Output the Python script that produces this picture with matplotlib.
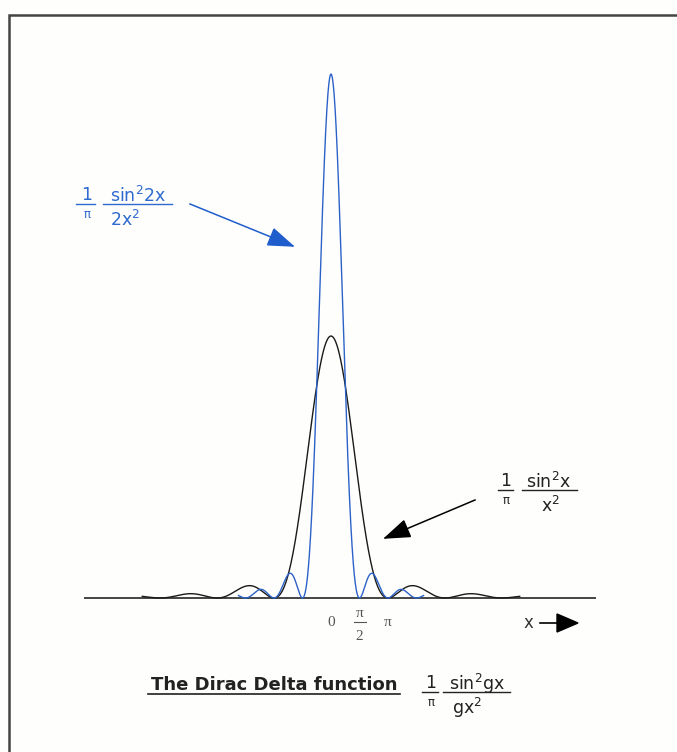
import matplotlib
matplotlib.use("Agg")
import matplotlib.pyplot as plt
import numpy as np
from matplotlib.patches import Rectangle, Polygon

# curve parameters: g in (1/pi) sin^2(gx) / (g x^2), and how far each is drawn
g_values = [1, 2]
x_extent = [10.4, 5.1]
curve_colors = ["#1a1a1a", "#2c62c8"]
tick_pos = [0, np.pi / 2, np.pi]
tick_text = ["0", "\u03c0", "\u03c0"]

W, H = 677, 752
fig = plt.figure(figsize=(W / 100, H / 100), dpi=100)
fig.patch.set_facecolor("#fefefc")
sans = "DejaVu Sans"


# pixel -> figure fraction
def px(x, y):
    return x / W, 1 - y / H


def hline(x0, x1, y, color, lw=1.0):
    fig.add_artist(plt.Line2D([px(x0, 0)[0], px(x1, 0)[0]], [px(0, y)[1]] * 2,
                              color=color, lw=lw))


# axes mapped so that x=0 sits at pixel 331, pi = 57 px, y=0 at pixel 598, 1 unit = 823 px
ax = fig.add_axes([0, 0, 1, 1])
xs = 57 / np.pi
ys = 823
ax.set_xlim(-331 / xs, (W - 331) / xs)
ax.set_ylim(-(H - 598) / ys, 598 / ys)
ax.axis("off")

for g, ext, c in zip(g_values, x_extent, curve_colors):
    x = np.linspace(-ext, ext, 2001)
    x[x == 0] = 1e-9
    y = np.sin(g * x) ** 2 / (g * x ** 2) / np.pi
    ax.plot(x, y, color=c, lw=1.0, zorder=3 if g == 2 else 2)

# horizontal axis
ax.hlines(0, (84 - 331) / xs, (596 - 331) / xs, color="#444444", lw=1.4, zorder=1)

# tick labels under the axis
serif = "Liberation Serif"
tcol = "#555555"
offs = [-17.5, -11.5, -17.5]
for p, t, o in zip(tick_pos, tick_text, offs):
    ax.annotate(t, (p, 0), xytext=(0, o), textcoords="offset points",
                ha="center", va="center", fontsize=11, family=serif, color=tcol)
ax.annotate("2", (tick_pos[1], 0), xytext=(0, -28), textcoords="offset points",
            ha="center", va="center", fontsize=11, family=serif, color=tcol)
hline(354, 366, 622, tcol, 0.8)


def frac_label(x1, xnum, xden, ybar, num, den, color, bar1, bar2, fs=12.5):
    # small 1/pi followed by the main fraction
    fig.text(*px(x1, ybar - 9), "1", ha="center", va="center", fontsize=fs,
             color=color, family=sans)
    fig.text(*px(x1, ybar + 11), "\u03c0", ha="center", va="center", fontsize=fs - 4,
             color=color, family=sans)
    hline(*bar1, ybar, color)
    fig.text(*px(xnum, ybar - 8), num, ha="center", va="center", fontsize=fs,
             color=color, family=sans)
    fig.text(*px(xden, ybar + 16), den, ha="center", va="center", fontsize=fs,
             color=color, family=sans)
    hline(*bar2, ybar, color)


def arrow(x0, y0, x1, y1, color, head=24, width=17):
    fig.add_artist(plt.Line2D([px(x0, 0)[0], px(x1, 0)[0]], [px(0, y0)[1], px(0, y1)[1]],
                              color=color, lw=1.1))
    d = np.array([x1 - x0, y1 - y0], float)
    d /= np.hypot(*d)
    n = np.array([-d[1], d[0]])
    tip = np.array([x1, y1])
    base = tip - d * head
    pts = [tip, base + n * width / 2, base - n * width / 2]
    fig.add_artist(Polygon([px(*p) for p in pts], closed=True, color=color,
                           transform=fig.transFigure))


blue = "#2d6ad0"
frac_label(87, 138, 125, 204, "sin$^2$2x", "2x$^2$", blue, (76, 95), (103, 172))
arrow(190, 204, 293, 246, "#1f5ccc")

frac_label(506, 549, 550, 490, "sin$^2$x", "x$^2$", "#222222", (498, 513), (522, 577))
arrow(475, 500, 385, 538, "black")

# x arrow
fig.text(*px(528, 623), "x", ha="center", va="center", fontsize=12,
         color="#333333", family=sans)
hline(540, 560, 623, "black", 1.2)
fig.add_artist(Polygon([px(578, 623), px(557, 614), px(557, 632)], closed=True,
                       color="black", transform=fig.transFigure))

# caption
fig.text(*px(274, 685), "The Dirac Delta function", ha="center", va="center",
         fontsize=13, weight="bold", color="#222222", family=sans)
hline(148, 400, 694, "#222222", 1.2)
frac_label(431, 477, 467, 692, "sin$^2$gx", "gx$^2$", "#222222", (422, 438), (443, 510))

# outer frame running off the right and bottom edges
fig.add_artist(Rectangle(px(9, 800), 700 / W, (800 - 15) / H, fill=False,
                         edgecolor="#444444", lw=1.8, transform=fig.transFigure))

fig.savefig("out.png", dpi=100, facecolor=fig.get_facecolor())
